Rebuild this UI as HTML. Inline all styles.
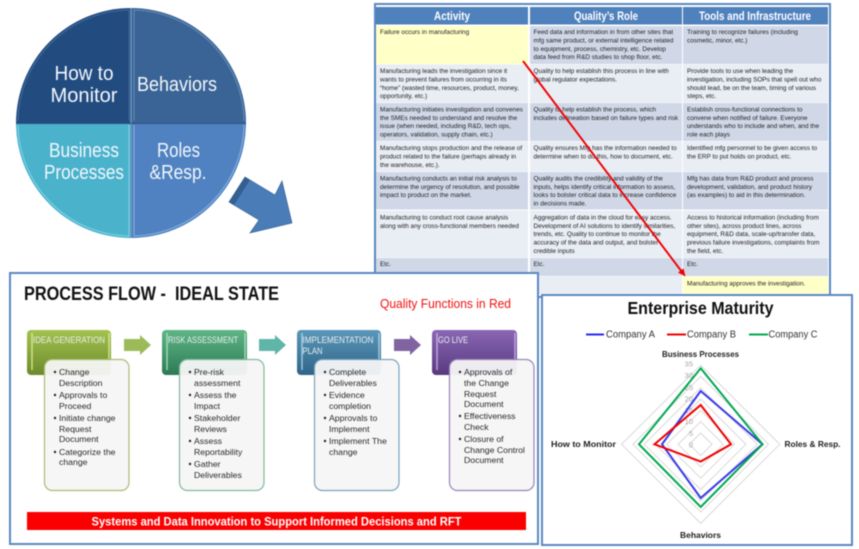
<!DOCTYPE html>
<html><head><meta charset="utf-8"><style>
html,body{margin:0;padding:0;background:#fff;width:859px;height:549px;overflow:hidden}
svg{display:block;filter:blur(.4px)}
text{font-family:"Liberation Sans",sans-serif}
.t{font-size:6.4px;fill:#222}
.b{font-size:8.7px;fill:#2a2a2a}
.h{font-size:9.4px;fill:#e8eef0}
.a{font-size:7.5px;fill:#a6a6a6;text-anchor:end}
.c{font-size:8.2px;font-weight:bold;fill:#222}
.l{font-size:10px;fill:#333}
.q{font-size:20.500px;fill:#f2f7fa;text-anchor:middle}
.th{font-size:11.500px;font-weight:bold;fill:#fff;text-anchor:middle}
</style></head><body>
<svg width="859" height="549" viewBox="0 0 859 549" xmlns="http://www.w3.org/2000/svg">
<defs>
<linearGradient id="g1" x1="0" y1="0" x2="0" y2="1"><stop offset="0" stop-color="#a3c24e"/><stop offset="1" stop-color="#6c8a2c"/></linearGradient>
<linearGradient id="g2" x1="0" y1="0" x2="0" y2="1"><stop offset="0" stop-color="#5fb585"/><stop offset="1" stop-color="#2c7a55"/></linearGradient>
<linearGradient id="g3" x1="0" y1="0" x2="0" y2="1"><stop offset="0" stop-color="#5a97b8"/><stop offset="1" stop-color="#2f6488"/></linearGradient>
<linearGradient id="g4" x1="0" y1="0" x2="0" y2="1"><stop offset="0" stop-color="#8a66b4"/><stop offset="1" stop-color="#583a80"/></linearGradient>
</defs>

<!-- Pie -->
<path d="M131 123V8A115 115 0 0 0 16 123Z" fill="#224b80"/>
<path d="M131 123V8A115 115 0 0 1 246 123Z" fill="#3a6496"/>
<path d="M131 123H16A115 115 0 0 0 131 238Z" fill="#4bb2cc"/>
<path d="M131 123H246A115 115 0 0 1 131 238Z" fill="#5082c2"/>
<path d="M129 121V10A113 113 0 0 0 18 121" fill="none" stroke="#4a739f" stroke-width=".8"/>
<path d="M134 121V10A113 113 0 0 1 244 121" fill="none" stroke="#7297bf" stroke-width=".8"/>
<path d="M129 125V236A113 113 0 0 1 18 125" fill="none" stroke="#8fdcec" stroke-width=".8"/>
<path d="M134 125V236A113 113 0 0 0 244 125" fill="none" stroke="#95bce4" stroke-width=".8"/>
<path d="M131 8V238" stroke="#6d94bd" stroke-width="1.500"/>
<path d="M16 123.500H246" stroke="#2f527c" stroke-width="1"/>
<text class="q" x="84" y="80" textLength="59" lengthAdjust="spacingAndGlyphs">How to</text>
<text class="q" x="84" y="102" textLength="67" lengthAdjust="spacingAndGlyphs">Monitor</text>
<text class="q" x="177" y="91" textLength="80" lengthAdjust="spacingAndGlyphs">Behaviors</text>
<text class="q" x="84" y="157" textLength="70" lengthAdjust="spacingAndGlyphs">Business</text>
<text class="q" x="84" y="179" textLength="80" lengthAdjust="spacingAndGlyphs">Processes</text>
<text class="q" x="178.500" y="157" textLength="43" lengthAdjust="spacingAndGlyphs">Roles</text>
<text class="q" x="178" y="179" textLength="57" lengthAdjust="spacingAndGlyphs">&amp;Resp.</text>

<!-- Block arrow -->
<polygon points="245,177 275,195 282,181 292,223 250,233 259,220 229,202" fill="#4a7db8" stroke="#3a6596" stroke-width=".7"/>
<polygon points="245,177 250,180 234,205 229,202" fill="#335f92"/>

<!-- Table -->
<rect x="375" y="4" width="455" height="293" fill="#fff" stroke="#5a88c0" stroke-width="2"/>
<rect x="376" y="7" width="152" height="17.500" fill="#4f81bd"/>
<rect x="530" y="7" width="152" height="17.500" fill="#4f81bd"/>
<rect x="683" y="7" width="145" height="17.500" fill="#4f81bd"/>
<text class="th" x="452" y="20" textLength="36" lengthAdjust="spacingAndGlyphs">Activity</text>
<text class="th" x="606" y="20" textLength="64" lengthAdjust="spacingAndGlyphs">Quality’s Role</text>
<text class="th" x="755" y="20" textLength="112" lengthAdjust="spacingAndGlyphs">Tools and Infrastructure</text>

<rect x="376" y="26" width="152" height="38" fill="#ffffc8"/>
<rect x="530" y="26" width="152" height="38" fill="#d0d8e8"/>
<rect x="683" y="26" width="145" height="38" fill="#d0d8e8"/>
<g fill="#e9edf4"><rect x="376" y="64.500" width="152" height="38"/><rect x="530" y="64.500" width="152" height="38"/><rect x="683" y="64.500" width="145" height="38"/></g>
<g fill="#d0d8e8"><rect x="376" y="103" width="152" height="38"/><rect x="530" y="103" width="152" height="38"/><rect x="683" y="103" width="145" height="38"/></g>
<g fill="#e9edf4"><rect x="376" y="141.500" width="152" height="30"/><rect x="530" y="141.500" width="152" height="30"/><rect x="683" y="141.500" width="145" height="30"/></g>
<g fill="#d0d8e8"><rect x="376" y="172" width="152" height="37.500"/><rect x="530" y="172" width="152" height="37.500"/><rect x="683" y="172" width="145" height="37.500"/></g>
<g fill="#e9edf4"><rect x="376" y="210.500" width="152" height="47"/><rect x="530" y="210.500" width="152" height="47"/><rect x="683" y="210.500" width="145" height="47"/></g>
<g fill="#d0d8e8"><rect x="376" y="258" width="152" height="18"/><rect x="530" y="258" width="152" height="18"/><rect x="683" y="258" width="145" height="18"/></g>
<g fill="#e9edf4"><rect x="376" y="276.500" width="152" height="17"/><rect x="530" y="276.500" width="152" height="17"/></g>
<rect x="683" y="276.500" width="145" height="17" fill="#ffffc8"/>

<g class="t">
<text class="t" x="380" y="34">Failure occurs in manufacturing</text>
<text class="t" x="380" y="73">Manufacturing leads the investigation since it</text>
<text class="t" x="380" y="81.500">wants to prevent failures from occurring in its</text>
<text class="t" x="380" y="90">“home” (wasted time, resources, product, money,</text>
<text class="t" x="380" y="98">opportunity, etc.)</text>
<text class="t" x="380" y="111.500">Manufacturing initiates investigation and convenes</text>
<text class="t" x="380" y="120">the SMEs needed to understand and resolve the</text>
<text class="t" x="380" y="128">issue (when needed, including R&amp;D, tech ops,</text>
<text class="t" x="380" y="136.500">operators, validation, supply chain, etc.)</text>
<text class="t" x="380" y="150">Manufacturing stops production and the release of</text>
<text class="t" x="380" y="158.500">product related to the failure (perhaps already in</text>
<text class="t" x="380" y="167">the warehouse, etc.).</text>
<text class="t" x="380" y="180.500">Manufacturing conducts an initial risk analysis to</text>
<text class="t" x="380" y="189">determine the urgency of resolution, and possible</text>
<text class="t" x="380" y="197">impact to product on the market.</text>
<text class="t" x="380" y="219.500">Manufacturing to conduct root cause analysis</text>
<text class="t" x="380" y="228">along with any cross-functional members needed</text>
<text class="t" x="380" y="266">Etc.</text>

<text class="t" x="533.500" y="34">Feed data and information in from other sites that</text>
<text class="t" x="533.500" y="42.500">mfg same product, or external intelligence related</text>
<text class="t" x="533.500" y="51">to equipment, process, chemistry, etc.  Develop</text>
<text class="t" x="533.500" y="59">data feed from R&amp;D studies to shop floor, etc.</text>
<text class="t" x="533.500" y="73">Quality to help establish this process in line with</text>
<text class="t" x="533.500" y="81.500">global regulator expectations.</text>
<text class="t" x="533.500" y="111.500">Quality to help establish the process, which</text>
<text class="t" x="533.500" y="120">includes delineation based on failure types and risk</text>
<text class="t" x="533.500" y="150">Quality ensures Mfg has the information needed to</text>
<text class="t" x="533.500" y="158.500">determine when to do this, how to document, etc.</text>
<text class="t" x="533.500" y="180.500">Quality audits the credibility and validity of the</text>
<text class="t" x="533.500" y="189">inputs, helps identify critical information to assess,</text>
<text class="t" x="533.500" y="197">looks to bolster critical data to increase confidence</text>
<text class="t" x="533.500" y="205.500">in decisions made.</text>
<text class="t" x="533.500" y="219.500">Aggregation of data in the cloud for easy access.</text>
<text class="t" x="533.500" y="228">Development of AI solutions to identify similarities,</text>
<text class="t" x="533.500" y="236">trends, etc.  Quality to continue to monitor the</text>
<text class="t" x="533.500" y="244.500">accuracy of the data and output, and bolster</text>
<text class="t" x="533.500" y="253">credible inputs</text>
<text class="t" x="533.500" y="266">Etc.</text>

<text class="t" x="687" y="34">Training to recognize failures (including</text>
<text class="t" x="687" y="42.500">cosmetic, minor, etc.)</text>
<text class="t" x="687" y="73">Provide tools to use when leading the</text>
<text class="t" x="687" y="81.500">investigation, including SOPs that spell out who</text>
<text class="t" x="687" y="90">should lead, be on the team, timing of various</text>
<text class="t" x="687" y="98">steps, etc.</text>
<text class="t" x="687" y="111.500">Establish cross-functional connections to</text>
<text class="t" x="687" y="120">convene when notified of failure.  Everyone</text>
<text class="t" x="687" y="128">understands who to include and when, and the</text>
<text class="t" x="687" y="136.500">role each plays</text>
<text class="t" x="687" y="150">Identified mfg personnel to be given access to</text>
<text class="t" x="687" y="158.500">the ERP to put holds on product, etc.</text>
<text class="t" x="687" y="180.500">Mfg has data from R&amp;D product and process</text>
<text class="t" x="687" y="189">development,  validation, and product history</text>
<text class="t" x="687" y="197">(as examples) to aid in this determination.</text>
<text class="t" x="687" y="219.500">Access to historical information (including from</text>
<text class="t" x="687" y="228">other sites), across product lines, across</text>
<text class="t" x="687" y="236">equipment, R&amp;D data, scale-up/transfer data,</text>
<text class="t" x="687" y="244.500">previous failure investigations, complaints from</text>
<text class="t" x="687" y="253">the field, etc.</text>
<text class="t" x="687" y="266">Etc.</text>
<text class="t" x="687" y="285.500">Manufacturing approves the investigation.</text>
</g>

<!-- Red arrow -->
<line x1="523" y1="61" x2="682" y2="272" stroke="#f00000" stroke-width="1.900"/>
<polygon points="685.500,276.500 678,272.500 683.500,268.500" fill="#f00000"/>

<!-- Process panel -->
<rect x="10" y="273" width="528" height="271" fill="#fff" stroke="#5a88c0" stroke-width="2"/>
<text x="24" y="300" font-size="19.500" font-weight="bold" fill="#111" textLength="255" lengthAdjust="spacingAndGlyphs" xml:space="preserve">PROCESS FLOW -  IDEAL STATE</text>
<text x="380" y="308" font-size="13" fill="#f01010" textLength="131" lengthAdjust="spacingAndGlyphs">Quality Functions in Red</text>

<rect x="27" y="330" width="84" height="45" rx="4" fill="url(#g1)"/>
<rect x="162" y="330" width="85" height="45" rx="4" fill="url(#g2)"/>
<rect x="297" y="330" width="84" height="45" rx="4" fill="url(#g3)"/>
<rect x="432" y="330" width="85" height="45" rx="4" fill="url(#g4)"/>
<g stroke-width="1.500" opacity=".75">
<path d="M32 333V370M109 333V360" stroke="#e6f5a0"/>
<path d="M167 333V370M245 333V360" stroke="#b8f0cc"/>
<path d="M302 333V370M379 333V360" stroke="#b8e4f8"/>
<path d="M437 333V370M515 333V360" stroke="#d8c0f4"/>
</g>
<text class="h" x="33" y="343" textLength="72" lengthAdjust="spacingAndGlyphs">IDEA GENERATION</text>
<text class="h" x="168" y="343" textLength="70" lengthAdjust="spacingAndGlyphs">RISK ASSESSMENT</text>
<text class="h" x="302.500" y="343" textLength="71" lengthAdjust="spacingAndGlyphs">IMPLEMENTATION</text>
<text class="h" x="302.500" y="354" textLength="20" lengthAdjust="spacingAndGlyphs">PLAN</text>
<text class="h" x="438" y="343" textLength="30" lengthAdjust="spacingAndGlyphs">GO LIVE</text>

<polygon points="124,339 140,339 140,335 151,345 140,355 140,351 124,351" fill="#9bbb59"/>
<polygon points="259,339 275,339 275,335 286,345 275,355 275,351 259,351" fill="#5fb5a8"/>
<polygon points="394,339 410,339 410,335 421,345 410,355 410,351 394,351" fill="#8064a2"/>

<rect x="44.500" y="359.500" width="84.500" height="131" rx="8" fill="#f6f6f6" fill-opacity=".95" stroke="#a8bc70" stroke-width="1.200"/>
<rect x="179.500" y="359.500" width="84.500" height="131" rx="8" fill="#f6f6f6" fill-opacity=".95" stroke="#80b89a" stroke-width="1.200"/>
<rect x="314.500" y="359.500" width="84.500" height="131" rx="8" fill="#f6f6f6" fill-opacity=".95" stroke="#7aa2bc" stroke-width="1.200"/>
<rect x="449.500" y="359.500" width="84.500" height="131" rx="8" fill="#f6f6f6" fill-opacity=".95" stroke="#9a84b8" stroke-width="1.200"/>

<g fill="#222">
<circle cx="55" cy="372" r="1.200"/><circle cx="55" cy="395" r="1.200"/><circle cx="55" cy="418" r="1.200"/><circle cx="55" cy="452" r="1.200"/>
<circle cx="190" cy="372" r="1.200"/><circle cx="190" cy="395" r="1.200"/><circle cx="190" cy="418" r="1.200"/><circle cx="190" cy="441" r="1.200"/><circle cx="190" cy="464" r="1.200"/>
<circle cx="325" cy="372" r="1.200"/><circle cx="325" cy="395" r="1.200"/><circle cx="325" cy="418" r="1.200"/><circle cx="325" cy="441" r="1.200"/>
<circle cx="460" cy="372" r="1.200"/><circle cx="460" cy="416" r="1.200"/><circle cx="460" cy="439" r="1.200"/>
</g>
<text class="b" x="59" y="375">Change</text>
<text class="b" x="59" y="386">Description</text>
<text class="b" x="59" y="398">Approvals to</text>
<text class="b" x="59" y="409">Proceed</text>
<text class="b" x="59" y="421">Initiate change</text>
<text class="b" x="59" y="432">Request</text>
<text class="b" x="59" y="442">Document</text>
<text class="b" x="59" y="455">Categorize the</text>
<text class="b" x="59" y="465">change</text>

<text class="b" x="194" y="375">Pre-risk</text>
<text class="b" x="194" y="386">assessment</text>
<text class="b" x="194" y="398">Assess the</text>
<text class="b" x="194" y="409">Impact</text>
<text class="b" x="194" y="421">Stakeholder</text>
<text class="b" x="194" y="432">Reviews</text>
<text class="b" x="194" y="444">Assess</text>
<text class="b" x="194" y="455">Reportability</text>
<text class="b" x="194" y="467">Gather</text>
<text class="b" x="194" y="478">Deliverables</text>

<text class="b" x="329" y="375">Complete</text>
<text class="b" x="329" y="386">Deliverables</text>
<text class="b" x="329" y="398">Evidence</text>
<text class="b" x="329" y="409">completion</text>
<text class="b" x="329" y="421">Approvals to</text>
<text class="b" x="329" y="432">Implement</text>
<text class="b" x="329" y="444">Implement The</text>
<text class="b" x="329" y="455">change</text>

<text class="b" x="464" y="375">Approvals of</text>
<text class="b" x="464" y="386">the Change</text>
<text class="b" x="464" y="397">Request</text>
<text class="b" x="464" y="407">Document</text>
<text class="b" x="464" y="419">Effectiveness</text>
<text class="b" x="464" y="430">Check</text>
<text class="b" x="464" y="442">Closure of</text>
<text class="b" x="464" y="453">Change Control</text>
<text class="b" x="464" y="463">Document</text>

<rect x="27" y="512" width="499" height="18" fill="#fb0000"/>
<text x="276.500" y="525.500" font-size="12" font-weight="bold" fill="#fff" text-anchor="middle" textLength="370" lengthAdjust="spacingAndGlyphs">Systems and Data Innovation to Support Informed Decisions and RFT</text>

<!-- Chart panel -->
<rect x="542" y="295" width="310" height="250" fill="#fff" stroke="#5a88c0" stroke-width="2"/>
<text x="700.500" y="314" font-size="17.500" font-weight="bold" fill="#111" text-anchor="middle" textLength="146" lengthAdjust="spacingAndGlyphs">Enterprise Maturity</text>
<path d="M586 334.500H604" stroke="#2a2af0" stroke-width="2"/>
<path d="M667 334.500H686" stroke="#f00000" stroke-width="2"/>
<path d="M749 334.500H768" stroke="#00a850" stroke-width="2"/>
<text class="l" x="606" y="337.500" textLength="49" lengthAdjust="spacingAndGlyphs">Company A</text>
<text class="l" x="687" y="337.500" textLength="49" lengthAdjust="spacingAndGlyphs">Company B</text>
<text class="l" x="768.500" y="337.500" textLength="49" lengthAdjust="spacingAndGlyphs">Company C</text>
<text class="c" x="700.500" y="357" text-anchor="middle" textLength="77" lengthAdjust="spacingAndGlyphs">Business Processes</text>
<text class="c" x="551" y="447" textLength="65" lengthAdjust="spacingAndGlyphs">How to Monitor</text>
<text class="c" x="784.500" y="447" textLength="56" lengthAdjust="spacingAndGlyphs">Roles &amp; Resp.</text>
<text class="c" x="700.500" y="538" text-anchor="middle" textLength="41" lengthAdjust="spacingAndGlyphs">Behaviors</text>

<g fill="none" stroke="#d9d9d9" stroke-width="1">
<polygon points="700.700,433 712,444.300 700.700,455.600 689.400,444.300"/>
<polygon points="700.700,421.700 723.300,444.300 700.700,466.900 678.100,444.300"/>
<polygon points="700.700,410.400 734.600,444.300 700.700,478.200 666.800,444.300"/>
<polygon points="700.700,399.100 745.900,444.300 700.700,489.500 655.500,444.300"/>
<polygon points="700.700,387.800 757.200,444.300 700.700,500.800 644.200,444.300"/>
<polygon points="700.700,376.500 768.500,444.300 700.700,512.100 632.900,444.300"/>
<polygon points="700.700,365.200 779.800,444.300 700.700,523.400 621.600,444.300"/>
</g>
<text class="a" x="693" y="366.500">35</text><text class="a" x="693" y="378">30</text><text class="a" x="693" y="390">25</text><text class="a" x="693" y="401.500">20</text><text class="a" x="693" y="413">15</text><text class="a" x="693" y="424">10</text><text class="a" x="693" y="436">5</text><text class="a" x="693" y="447.500">0</text>
<g fill="none" stroke-width="2">
<polygon points="700.700,391 762.500,444.300 700.700,498 662,444.300" stroke="#3a3ae8"/>
<polygon points="700.700,368.300 762.500,444.300 700.700,507 639,444.300" stroke="#00a850"/>
<polygon points="700.700,405 731,444.300 700.700,461.500 654.500,444.300" stroke="#f00000"/>
</g>
</svg>
</body></html>
